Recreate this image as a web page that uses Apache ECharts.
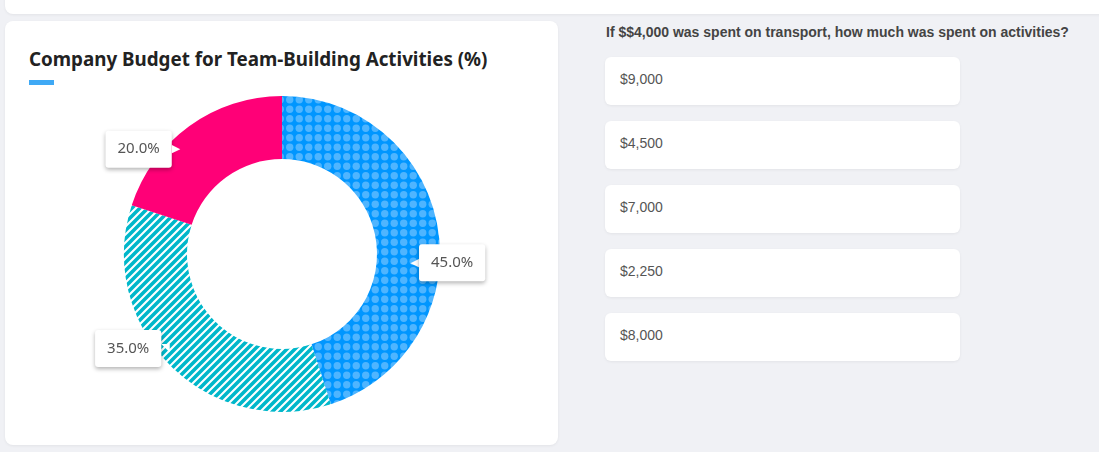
<!DOCTYPE html>
<html>
<head>
<meta charset="utf-8">
<script src="https://cdn.jsdelivr.net/npm/echarts@6/dist/echarts.min.js"></script>
<style>
  html, body { margin: 0; padding: 0; width: 1099px; height: 452px; overflow: hidden; background: #f0f1f5; }
  .topcard { position: absolute; left: 5px; top: -10px; width: 1110px; height: 24px; background: #fff; border-radius: 8px; box-shadow: 0 1px 3px rgba(0,0,0,0.06); }
  .card { position: absolute; left: 5px; top: 21px; width: 553px; height: 424px; background: #fff; border-radius: 8px; box-shadow: 0 1px 3px rgba(0,0,0,0.06); }
  .title { position: absolute; left: 29px; top: 46px; font-family: "Noto Sans", sans-serif; font-weight: 700; font-size: 18.8px; color: #222; white-space: nowrap; }
  .bar { position: absolute; left: 29px; top: 80px; width: 25px; height: 5px; background: #3fa9f5; }
  #chart { position: absolute; left: 0; top: 0; width: 560px; height: 452px; }
  .question { position: absolute; left: 606px; top: 24px; font-family: "Liberation Sans", Arial, sans-serif; font-weight: 700; font-size: 14px; color: #444; white-space: nowrap; }
  .opt { position: absolute; left: 605px; width: 355px; height: 48px; background: #fff; border-radius: 6px; box-shadow: 0 1px 3px rgba(0,0,0,0.06); box-sizing: border-box; padding: 14px 15px; font-family: "Liberation Sans", Arial, sans-serif; font-size: 14px; line-height: 16px; color: #555; }
</style>
</head>
<body>
<div class="topcard"></div>
<div class="card"></div>
<div class="title">Company Budget for Team-Building Activities (%)</div>
<div class="bar"></div>
<div id="chart"></div>
<div class="question" id="question"></div>
<div id="options"></div>
<script>
const categories = ["Activities", "Catering", "Transport"];
const values = [45, 35, 20];
const questionText = "If $$4,000 was spent on transport, how much was spent on activities?";
const answerOptions = ["$9,000", "$4,500", "$7,000", "$2,250", "$8,000"];

document.getElementById('question').textContent = questionText;
const optWrap = document.getElementById('options');
answerOptions.forEach((t, i) => {
  const d = document.createElement('div');
  d.className = 'opt';
  d.style.top = (57 + i * 64) + 'px';
  d.textContent = t;
  optWrap.appendChild(d);
});

function dotPattern() {
  const c = document.createElement('canvas');
  c.width = 19; c.height = 19;
  const g = c.getContext('2d');
  g.fillStyle = '#0096ff';
  g.fillRect(0, 0, 19, 19);
  g.fillStyle = '#4fb5ff';
  [[4.75, 4.75], [14.25, 4.75], [4.75, 14.25], [14.25, 14.25]].forEach(p => {
    g.beginPath(); g.arc(p[0], p[1], 3.7, 0, Math.PI * 2); g.fill();
  });
  return c;
}
function stripePattern() {
  const s = 8;
  const c = document.createElement('canvas');
  c.width = s; c.height = s;
  const g = c.getContext('2d');
  g.fillStyle = '#00b7ca';
  g.fillRect(0, 0, s, s);
  g.strokeStyle = '#ffffff';
  g.lineWidth = 2.1;
  g.beginPath();
  g.moveTo(-1, s + 1); g.lineTo(s + 1, -1);
  g.moveTo(-1, 1); g.lineTo(1, -1);
  g.moveTo(s - 1, s + 1); g.lineTo(s + 1, s - 1);
  g.stroke();
  return c;
}

const fills = [
  { image: dotPattern(), repeat: 'repeat' },
  { image: stripePattern(), repeat: 'repeat' },
  '#ff0077'
];
const labelOffsets = [[38, 29], [-58, 3], [-63, 0]];
const labelFormats = [
  p => '{arrow|◀}{box|' + p.value.toFixed(1) + '%}',
  p => '{box|' + p.value.toFixed(1) + '%}{arrow|◥}',
  p => '{box|' + p.value.toFixed(1) + '%}{arrow|▶}'
];

const boxStyle = {
  fontFamily: 'Noto Sans', fontSize: 15, color: '#555',
  backgroundColor: '#fff', padding: [11, 12], borderRadius: 3,
  shadowColor: 'rgba(0,0,0,0.3)', shadowBlur: 4, shadowOffsetY: 2
};
const arrowStyle = { fontFamily: 'DejaVu Sans', fontSize: 11, color: '#fff' };

const chart = echarts.init(document.getElementById('chart'));
chart.setOption({
  animation: false,
  series: [{
    type: 'pie',
    center: [282, 254],
    radius: [95, 158],
    startAngle: 90,
    clockwise: true,
    silent: true,
    data: categories.map((n, i) => ({
      name: n,
      value: values[i],
      itemStyle: { color: fills[i] },
      label: {
        show: true,
        position: 'inside',
        offset: labelOffsets[i],
        formatter: labelFormats[i],
        rich: { box: boxStyle, arrow: arrowStyle }
      }
    })),
    labelLine: { show: false }
  }]
});
</script>
</body>
</html>
